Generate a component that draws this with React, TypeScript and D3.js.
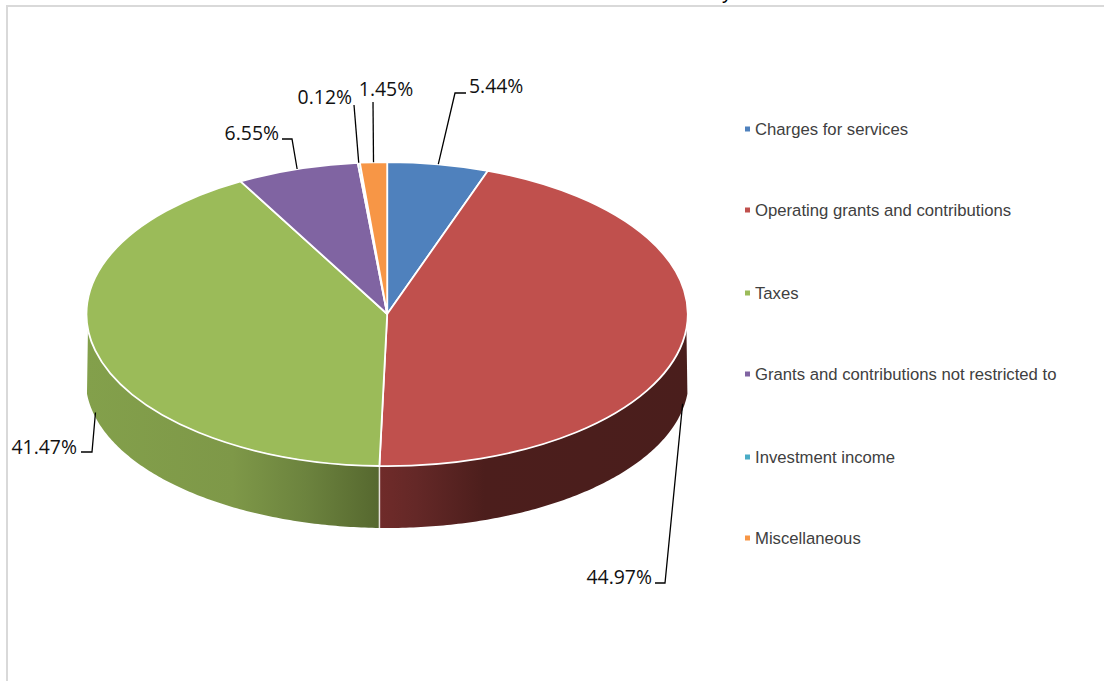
import React from "react";
import * as d3 from "d3";

// Revenue shares by source, clockwise from twelve o'clock
const categories = [
  "Charges for services",
  "Operating grants and contributions",
  "Taxes",
  "Grants and contributions not restricted to",
  "Investment income",
  "Miscellaneous",
];
const shares = [5.44, 44.97, 41.47, 6.55, 0.12, 1.45];
const sliceColors = ["#4f81bd", "#c0504d", "#9bbb59", "#8064a2", "#4bacc6", "#f79646"];

const WIDTH = 1104;
const HEIGHT = 681;
const cx = 387.2;
const cy = 314;
const rx = 300.5;
const ry = 152;

// Lower rim of the disc
const rimCy = 380;
const rimRx = 301.5;
const rimRy = 148;
const depth = 62;

const legendRows = [131, 212, 295, 376, 459, 540];

// Leader elbows and label anchors for each slice, in category order
const leaderElbows: [number, number][] = [[455, 93], [665, 583], [92, 452], [292, 139], [354, 105], [373, 102]];
const leaderEnds: [number, number][] = [[466, 93], [655, 583], [81, 452], [282, 139], [354, 105], [373, 102]];
const labelAnchors: [number, number, string][] = [
  [469, 88, "start"],
  [652, 579, "end"],
  [77, 449, "end"],
  [279, 135, "end"],
  [352, 99, "end"],
  [386, 91, "middle"],
];

const pie = d3.pie<number>().sort(null).value((d) => d);
const arcs = pie(shares);
const unitArc = d3.arc<d3.PieArcDatum<number>>().innerRadius(0).outerRadius(1);

const topX = (a: number) => cx + rx * Math.sin(a);
const topY = (a: number) => cy - ry * Math.cos(a);
const rimX = (a: number) => cx + rimRx * Math.sin(a);
const rimY = (a: number) => rimCy - rimRy * Math.cos(a);

// Closed band between the upper and lower rim over an angular range
function wallPath(a0: number, a1: number): string {
  const steps = d3.range(0, 121).map((i) => a0 + ((a1 - a0) * i) / 120);
  const line = d3.line<[number, number]>();
  const pts: [number, number][] = [
    ...steps.map((a) => [topX(a), topY(a)] as [number, number]),
    ...steps.slice().reverse().map((a) => [rimX(a), rimY(a)] as [number, number]),
  ];
  return line(pts) + "Z";
}

// Visible part of the wall starts a little below the widest point of the ellipse
const wallStart = Math.PI / 2 + Math.asin(14 / ry);
const wallEnd = (3 * Math.PI) / 2 - Math.asin(14 / ry);

const labelText = (v: number) => `${v.toFixed(2)}%`;

export default function App() {
  const redArc = arcs[1];
  return (
    <svg
      width={WIDTH}
      height={HEIGHT}
      viewBox={`0 0 ${WIDTH} ${HEIGHT}`}
      style={{ position: "absolute", left: 0, top: 0, background: "#fff" }}
    >
      <defs>
        <linearGradient id="wallRed" gradientUnits="userSpaceOnUse" x1={379} x2={690} y1={0} y2={0}>
          <stop offset="0" stopColor="#702b2a" />
          <stop offset="0.12" stopColor="#642827" />
          <stop offset="0.34" stopColor="#4c1e1c" />
          <stop offset="1" stopColor="#4a1e1c" />
        </linearGradient>
        <linearGradient id="wallGreen" gradientUnits="userSpaceOnUse" x1={86} x2={379} y1={0} y2={0}>
          <stop offset="0" stopColor="#83a04b" />
          <stop offset="0.5" stopColor="#7e9848" />
          <stop offset="0.75" stopColor="#6c833e" />
          <stop offset="1" stopColor="#56682f" />
        </linearGradient>
      </defs>

      {/* Chart frame */}
      <path d={`M7,${HEIGHT}V6H${WIDTH}`} fill="none" stroke="#d9d9d9" strokeWidth={2} />

      {/* Descender of the cropped heading */}
      <text x={722} y={-1} fontFamily="Liberation Sans" fontSize={20} fill="#000">y</text>

      {/* Side walls */}
      <path d={wallPath(redArc.endAngle, wallEnd)} fill="url(#wallGreen)" />
      <path d={wallPath(wallStart, redArc.endAngle)} fill="url(#wallRed)" />
      <line
        x1={topX(redArc.endAngle)}
        y1={topY(redArc.endAngle)}
        x2={rimX(redArc.endAngle)}
        y2={rimY(redArc.endAngle)}
        stroke="#e6e0dc"
        strokeWidth={1.5}
      />

      {/* Top face */}
      <g transform={`translate(${cx},${cy}) scale(${rx},${ry})`}>
        {arcs.map((a, i) => (
          <path
            key={categories[i]}
            d={unitArc(a) ?? ""}
            fill={sliceColors[i]}
            stroke="#fff"
            strokeWidth={1.8}
            strokeLinejoin="round"
            vectorEffect="non-scaling-stroke"
          />
        ))}
      </g>

      {/* Leader lines and value labels */}
      {arcs.map((a, i) => {
        const mid = (a.startAngle + a.endAngle) / 2;
        const lower = Math.cos(mid) < 0;
        const start: [number, number] = [topX(mid), topY(mid) + (lower ? depth : 0)];
        const line = d3.line<[number, number]>();
        const [lx, ly, anchor] = labelAnchors[i];
        return (
          <g key={categories[i]}>
            <path
              d={line([start, leaderElbows[i], leaderEnds[i]]) ?? ""}
              fill="none"
              stroke="#000"
              strokeWidth={1.3}
            />
            <text
              x={lx}
              y={ly}
              textAnchor={anchor as "start" | "end" | "middle"}
              dominantBaseline="middle"
              fontFamily="'Open Sans'"
              fontSize={19.4}
              fill="#111"
            >
              {labelText(shares[i])}
            </text>
          </g>
        );
      })}

      {/* Legend */}
      {categories.map((c, i) => (
        <g key={c}>
          <rect x={745} y={legendRows[i] - 4.5} width={5} height={5} fill={sliceColors[i]} />
          <text
            x={755}
            y={legendRows[i]}
            dominantBaseline="middle"
            fontFamily="'Liberation Sans'"
            fontSize={16.7}
            fill="#404040"
          >
            {c}
          </text>
        </g>
      ))}
    </svg>
  );
}
